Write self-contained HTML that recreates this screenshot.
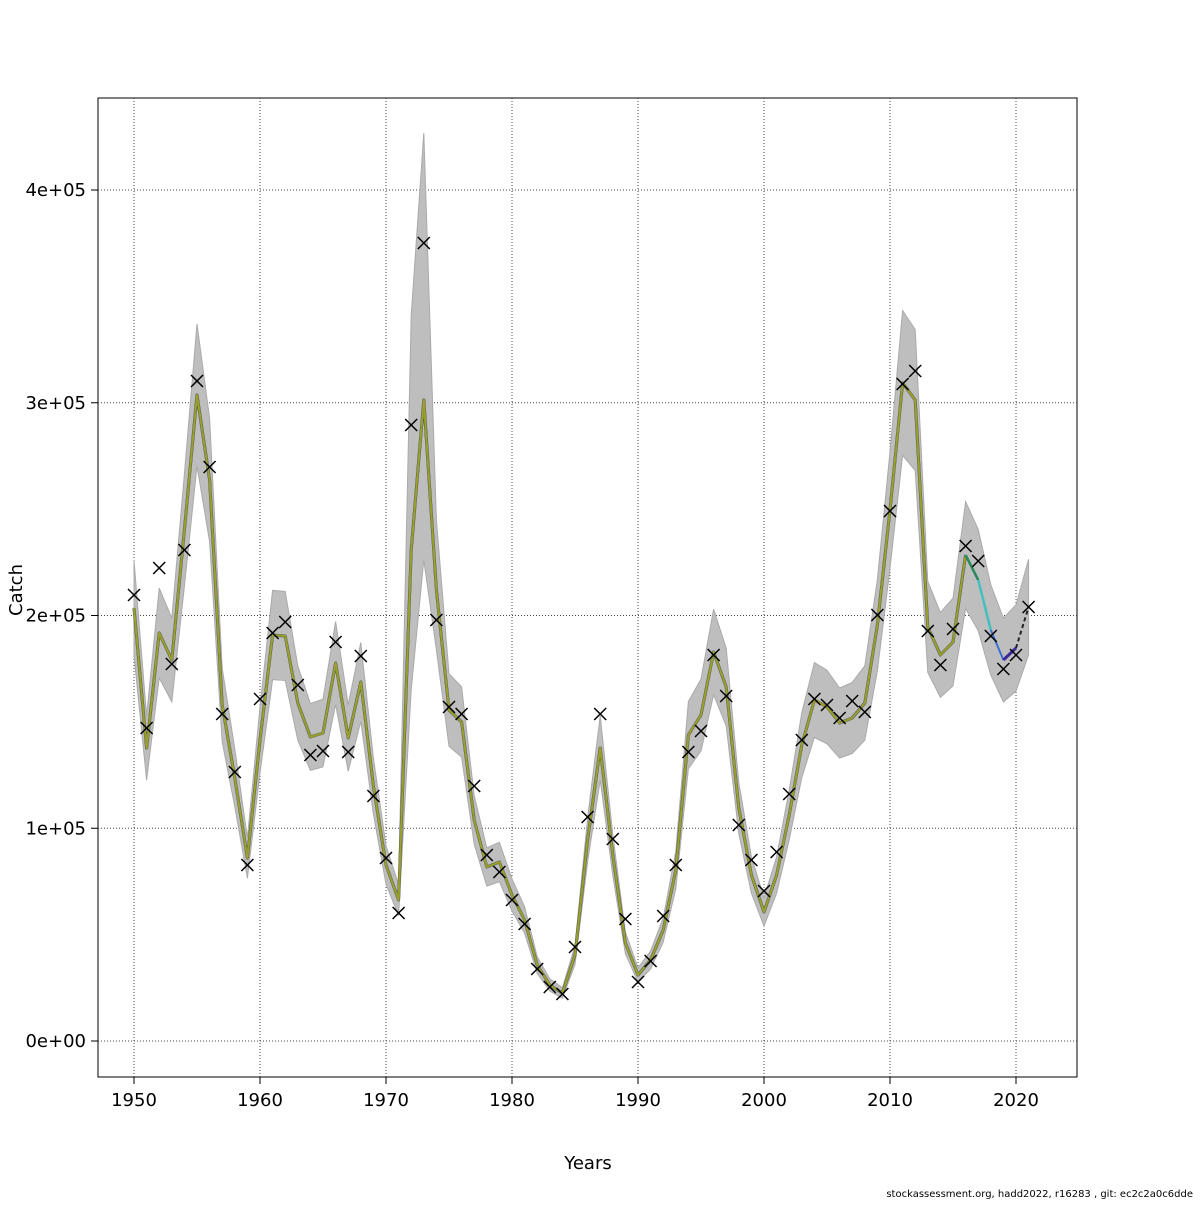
<!DOCTYPE html>
<html><head><meta charset="utf-8"><style>
html,body{margin:0;padding:0;background:#fff;}
svg text{font-family:"DejaVu Sans","Liberation Sans",sans-serif;}
</style></head><body>
<svg id="s" width="1200" height="1200" xmlns="http://www.w3.org/2000/svg"></svg>
<script>
const s=document.getElementById('s');
const X=y=>134+(y-1950)*12.6;
const mk=[595,728,568,664,550,381,467,714,772,865,699,633,622,685,755,751,642,752,656,796,858,913,425,243,620,707,714,786,855,872,900,924,969,987,994,947,817,714,839,919,982,961,916,865,752,731,655,696,825,860,891,852,794,740,699,705,718,701,712,615,511,384,371,631,665,629,546,561,636,669,655,607];
const ln=[608,748,633,660,530,395,480,705,778,858,740,635,636,703,737,733,663,738,682,786,865,900,550,400,590,710,722,820,867,862,895,920,965,985,993,955,840,748,855,943,975,960,930,870,735,715,652,687,808,875,912,875,815,745,700,707,723,718,703,625,510,383,400,627,655,642,555,580,630,660,648,607];
let up=[],lo=[];
for(let i=0;i<ln.length;i++){const h=1041-ln[i];up.push(ln[i]-h*0.11);lo.push(ln[i]+h*0.11);}
up[22]=315;lo[22]=690;up[23]=133;lo[23]=560;up[24]=520;lo[24]=650;
let h='';
h+='<rect x="98" y="98" width="979" height="979" fill="none" stroke="#000" stroke-width="1"/>';
for(let y=1950;y<=2020;y+=10){h+=`<line x1="${X(y)}" y1="98" x2="${X(y)}" y2="1077" stroke="#444" stroke-dasharray="1,2" stroke-width="1"/>`;
h+=`<line x1="${X(y)}" y1="1077" x2="${X(y)}" y2="1084" stroke="#000"/><text x="${X(y)}" y="1106" font-size="18" text-anchor="middle">${y}</text>`;}
['0e+00','1e+05','2e+05','3e+05','4e+05'].forEach((t,i)=>{const y=1041-i*212.75;
h+=`<line x1="98" y1="${y}" x2="1077" y2="${y}" stroke="#444" stroke-dasharray="1,2" stroke-width="1"/><line x1="91" y1="${y}" x2="98" y2="${y}" stroke="#000"/><text x="86" y="${y+6}" font-size="18" text-anchor="end">${t}</text>`;});
let p='';for(let i=0;i<up.length;i++)p+=`${X(1950+i)},${up[i]} `;for(let i=lo.length-1;i>=0;i--)p+=`${X(1950+i)},${lo[i]} `;
h+=`<polygon points="${p}" fill="#bebebe" stroke="#aaa" stroke-width="1"/>`;
const pl=(a,b,c,w,d)=>{let q='';for(let i=a;i<=b;i++)q+=`${X(1950+i)},${ln[i]} `;return `<polyline points="${q}" fill="none" stroke="${c}" stroke-width="${w}" ${d||''} stroke-linejoin="round"/>`;};
h+=pl(0,66,'#2a2a7a',3);h+=pl(0,66,'#8aa020',2.5);h+=pl(0,66,'#4a9a40',1);h+=pl(0,66,'#c09a30',0.8);
h+=pl(66,67,'#2a8a5a',2.5);h+=pl(67,68,'#40c0c0',2.5);h+=pl(68,69,'#3a70d0',2);h+=pl(69,70,'#3a2a9a',3);h+=pl(70,71,'#222',2,'stroke-dasharray="4,3"');
for(let i=0;i<mk.length;i++){const x=X(1950+i),y=mk[i];h+=`<path d="M${x-6},${y-6}L${x+6},${y+6}M${x-6},${y+6}L${x+6},${y-6}" stroke="#000" stroke-width="1.5"/>`;}
h+='<text x="588" y="1169" font-size="18" text-anchor="middle">Years</text>';
h+='<text transform="translate(22,590) rotate(-90)" font-size="18" text-anchor="middle">Catch</text>';
h+='<text x="1193" y="1197" font-size="10" text-anchor="end">stockassessment.org, hadd2022, r16283 , git: ec2c2a0c6dde</text>';
s.innerHTML=h;
</script>
</body></html>
